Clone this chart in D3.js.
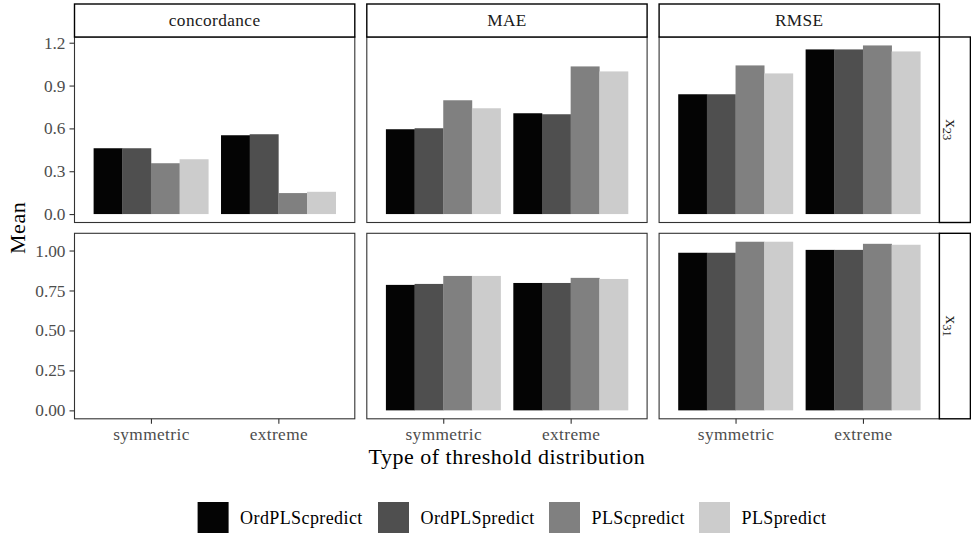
<!DOCTYPE html>
<html><head><meta charset="utf-8">
<script src="https://cdn.jsdelivr.net/npm/d3@7"></script>
<style>body{margin:0;background:#fff}svg{display:block}</style>
</head><body><svg id="c" width="971" height="535"></svg>
<script>
const metrics = ["concordance","MAE","RMSE"];
const rowsLab = ["23","31"];
const cats = ["symmetric","extreme"];
const methods = ["OrdPLScpredict","OrdPLSpredict","PLScpredict","PLSpredict"];
const colors = ["#040404","#4f4f4f","#808080","#cccccc"];
// per facet: [category][method]
const x23_concordance = [[0.461,0.461,0.356,0.384],[0.552,0.559,0.147,0.156]];
const x23_MAE = [[0.594,0.601,0.797,0.741],[0.706,0.699,1.034,0.999]];
const x23_RMSE = [[0.839,0.839,1.041,0.985],[1.153,1.153,1.181,1.139]];
const x31_concordance = [null,null];
const x31_MAE = [[0.785,0.791,0.841,0.841],[0.797,0.797,0.829,0.822]];
const x31_RMSE = [[0.986,0.986,1.055,1.055],[1.004,1.004,1.042,1.036]];
const yTicksTop = [0,0.3,0.6,0.9,1.2];
const yTicksBot = [0,0.25,0.5,0.75,1.0];

const data = [[x23_concordance,x23_MAE,x23_RMSE],[x31_concordance,x31_MAE,x31_RMSE]];
const FONT = "'Liberation Serif','DejaVu Serif',serif";
const svg = d3.select("#c").style("font-family",FONT);

const left=74.5, W=280.3, gap=12, stripTop=4, stripH=33;
const rowTop=[37,233.3], H=185.5;
const panelX = i => left + i*(W+gap);
const SMALL = 17.3;

rowsLab.forEach((rl,r)=>{
  const vals = data[r].flatMap(m=>m.flatMap(c=>c||[]));
  const M = d3.max(vals);
  const y = d3.scaleLinear().domain([-0.05*M,1.05*M]).range([rowTop[r]+H,rowTop[r]]);
  const ticks = r===0?yTicksTop:yTicksBot;
  const fmt = r===0?d3.format(".1f"):d3.format(".2f");
  metrics.forEach((m,i)=>{
    const x0 = panelX(i);
    const xs = d3.scalePoint().domain(cats).range([x0,x0+W]).padding(0.6);
    const step = xs.step();
    const xb = d3.scaleBand().domain(methods).range([-0.45*step,0.45*step]).padding(0);
    const g = svg.append("g");
    const d = data[r][i];
    cats.forEach((c,ci)=>{
      if(!d[ci]) return;
      g.selectAll(null).data(methods).enter().append("rect")
        .attr("x",mm=>xs(c)+xb(mm))
        .attr("width",xb.bandwidth()+0.3)
        .attr("y",(mm,k)=>y(d[ci][k]))
        .attr("height",(mm,k)=>y(0)-y(d[ci][k]))
        .attr("fill",(mm,k)=>colors[k]);
    });
    g.append("rect").attr("x",x0).attr("y",rowTop[r]).attr("width",W).attr("height",H)
      .attr("fill","none").attr("stroke","#333").attr("stroke-width",1.1);
    if(r===0){
      svg.append("rect").attr("x",x0).attr("y",stripTop).attr("width",W).attr("height",stripH)
        .attr("fill","#fff").attr("stroke","#000").attr("stroke-width",1.4);
      svg.append("text").attr("x",x0+W/2).attr("y",stripTop+stripH/2).attr("dy","0.33em")
        .attr("text-anchor","middle").attr("font-size",SMALL).attr("letter-spacing",0.4)
        .attr("fill","#1a1a1a").text(m);
    }
    if(r===1){
      const ax = svg.append("g").attr("transform",`translate(0,${rowTop[1]+H})`)
        .call(d3.axisBottom(xs).tickSize(5).tickPadding(4));
      ax.select(".domain").remove();
      ax.selectAll("line").attr("stroke","#333").attr("stroke-width",1.1);
      ax.selectAll("text").attr("font-family",FONT).attr("font-size",SMALL)
        .attr("letter-spacing",0.4).attr("fill","#4d4d4d").attr("dy","0.68em");
    }
    if(i===0){
      const ay = svg.append("g").attr("transform",`translate(${x0},0)`)
        .call(d3.axisLeft(y).tickValues(ticks).tickFormat(fmt).tickSize(5).tickPadding(4));
      ay.select(".domain").remove();
      ay.selectAll("line").attr("stroke","#333").attr("stroke-width",1.1);
      ay.selectAll("text").attr("font-family",FONT).attr("font-size",SMALL).attr("fill","#4d4d4d");
    }
  });
  // right strip
  const sx = panelX(2)+W;
  svg.append("rect").attr("x",sx).attr("y",rowTop[r]).attr("width",31).attr("height",H)
    .attr("fill","#fff").attr("stroke","#000").attr("stroke-width",1.4);
  const t = svg.append("text").attr("transform",`translate(${sx+13},${rowTop[r]+H/2}) rotate(90)`)
    .attr("text-anchor","middle").attr("dy","0.35em").attr("font-size",SMALL).attr("fill","#1a1a1a");
  t.append("tspan").text("x");
  t.append("tspan").attr("font-size",12.5).attr("dy","3.5").text(rl);
});

// axis titles
svg.append("text").attr("x",(left+panelX(2)+W)/2).attr("y",464)
  .attr("text-anchor","middle").attr("font-size",22).attr("letter-spacing",0.5)
  .text("Type of threshold distribution");
svg.append("text").attr("transform",`translate(25,${(37+418.8)/2}) rotate(-90)`)
  .attr("text-anchor","middle").attr("font-size",22).attr("letter-spacing",0.5).text("Mean");

// legend
const legX = [197.6,378,549,699];
methods.forEach((m,k)=>{
  svg.append("rect").attr("x",legX[k]).attr("y",502).attr("width",31).attr("height",31).attr("fill",colors[k]);
  svg.append("text").attr("x",legX[k]+42.5).attr("y",517.5).attr("dy","0.35em")
    .attr("font-size",18).attr("letter-spacing",0.4).text(m);
});
</script></body></html>
